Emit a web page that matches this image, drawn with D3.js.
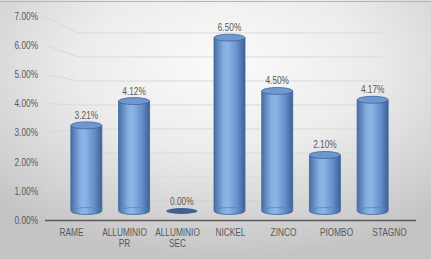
<!DOCTYPE html>
<html>
<head>
<meta charset="utf-8">
<script src="https://cdn.jsdelivr.net/npm/d3@7"></script>
<style>
  html, body { margin: 0; padding: 0; background: #fff; }
  svg { display: block; }
  text { font-family: "Liberation Sans", Arial, sans-serif; fill: #595959; font-size: 10px; }
</style>
</head>
<body>
<svg id="chart" width="431" height="259"></svg>
<script>
var categories = ["RAME", "ALLUMINIO PR", "ALLUMINIO SEC", "NICKEL", "ZINCO", "PIOMBO", "STAGNO"],
    values = [3.21, 4.12, 0.00, 6.50, 4.50, 2.10, 4.17],
    yTicks = [0, 1, 2, 3, 4, 5, 6, 7];

var svg = d3.select("#chart"),
    width = 431,
    height = 259,
    squeeze = 0.83, // narrow the glyphs, the original face is condensed
    pct = function(v) { return d3.format(".2%")(v / 100); };

var defs = svg.append("defs");

var bg = defs.append("radialGradient")
    .attr("id", "bg")
    .attr("cx", "52%").attr("cy", "25%").attr("r", "75%");
bg.append("stop").attr("offset", "0%").attr("stop-color", "#fbfbfb");
bg.append("stop").attr("offset", "45%").attr("stop-color", "#ececec");
bg.append("stop").attr("offset", "100%").attr("stop-color", "#c4c4c4");

var cyl = defs.append("linearGradient")
    .attr("id", "cyl")
    .attr("x1", "0%").attr("x2", "100%").attr("y1", "0%").attr("y2", "0%");
cyl.append("stop").attr("offset", "0%").attr("stop-color", "#456ea6");
cyl.append("stop").attr("offset", "30%").attr("stop-color", "#86ade0");
cyl.append("stop").attr("offset", "45%").attr("stop-color", "#8fb5e6");
cyl.append("stop").attr("offset", "75%").attr("stop-color", "#6690c8");
cyl.append("stop").attr("offset", "100%").attr("stop-color", "#3c6297");

svg.append("rect")
    .attr("width", width).attr("height", height)
    .attr("fill", "url(#bg)");

svg.append("line")
    .attr("x1", 0).attr("x2", width)
    .attr("y1", 1.5).attr("y2", 1.5)
    .attr("stroke", "#b5b5b5");

// front edge, back wall and bar plane of the 3d box
var yFront = d3.scaleLinear().domain([0, 7]).range([220.5, 16]),
    yBack = d3.scaleLinear().domain([0, 7]).range([201, 33]),
    yBar = d3.scaleLinear().domain([0, 7]).range([211, 24.3]);

var xFront = d3.scaleBand().domain(categories).range([45, 416]),
    xBar = d3.scaleBand().domain(categories).range([62.5, 396.5]),
    backLeft = 78,
    backRight = 383;

var line = d3.line();

// gridlines: diagonal on the side, flat on the back wall
svg.append("g")
  .selectAll("path")
  .data(yTicks)
  .join("path")
    .attr("d", function(v) {
      return line([[xFront.range()[0], yFront(v)], [backLeft, yBack(v)], [backRight, yBack(v)]]);
    })
    .attr("fill", "none")
    .attr("stroke", function(v) { return v === 0 ? "#cfcfcf" : "#d9d9d9"; })
    .attr("stroke-width", 1);

svg.append("g")
  .selectAll("text")
  .data(yTicks)
  .join("text")
    .attr("transform", function(v) { return "translate(38," + yFront(v) + ") scale(" + squeeze + ",1)"; })
    .attr("dy", "0.35em")
    .attr("text-anchor", "end")
    .text(pct);

// bars as cylinders
var rx = 15.5, ry = 3.5;
var bars = svg.append("g")
  .selectAll("g")
  .data(values.map(function(v, i) { return {cat: categories[i], value: v}; }))
  .join("g");

bars.each(function(d) {
  var g = d3.select(this),
      cx = xBar(d.cat) + xBar.bandwidth() / 2,
      y0 = yBar(0),
      y1 = yBar(d.value);
  if (d.value <= 0) {
    g.append("ellipse")
        .attr("cx", cx).attr("cy", y0)
        .attr("rx", rx).attr("ry", ry - 0.5)
        .attr("fill", "#3e6191");
    return;
  }
  g.append("path")
      .attr("d", "M" + (cx - rx) + "," + y1 +
        "L" + (cx - rx) + "," + y0 +
        "A" + rx + "," + ry + " 0 0 0 " + (cx + rx) + "," + y0 +
        "L" + (cx + rx) + "," + y1 + "Z")
      .attr("fill", "url(#cyl)")
      .attr("stroke", "#3f6599")
      .attr("stroke-width", 0.8);
  g.append("path")
      .attr("d", "M" + (cx - rx) + "," + y0 +
        "A" + rx + "," + ry + " 0 0 1 " + (cx + rx) + "," + y0)
      .attr("fill", "none")
      .attr("stroke", "#5b85bd")
      .attr("stroke-width", 0.8);
  g.append("ellipse")
      .attr("cx", cx).attr("cy", y1)
      .attr("rx", rx).attr("ry", ry)
      .attr("fill", "#6e98cf")
      .attr("stroke", "#3f6599")
      .attr("stroke-width", 0.8);
});

bars.append("text")
    .attr("transform", function(d) {
      return "translate(" + (xBar(d.cat) + xBar.bandwidth() / 2) + "," + (yBar(d.value) - 10) + ") scale(" + squeeze + ",1)";
    })
    .attr("dy", "0.35em")
    .attr("text-anchor", "middle")
    .text(function(d) { return pct(d.value); });

// category axis on the front edge
svg.append("line")
    .attr("x1", xFront.range()[0]).attr("x2", xFront.range()[1])
    .attr("y1", yFront(0)).attr("y2", yFront(0))
    .attr("stroke", "#595959")
    .attr("stroke-width", 1.5);

svg.append("g")
  .selectAll("text")
  .data(categories)
  .join("text")
    .attr("text-anchor", "middle")
    .attr("transform", function(d) {
      return "translate(" + (xFront(d) + xFront.bandwidth() / 2) + "," + (yFront(0) + 15.5) + ") scale(" + squeeze + ",1)";
    })
    .each(function(d) {
      var t = d3.select(this);
      d.split(" ").forEach(function(w, i) {
        t.append("tspan").attr("x", 0).attr("y", i * 11).text(w);
      });
    });
</script>
</body>
</html>
